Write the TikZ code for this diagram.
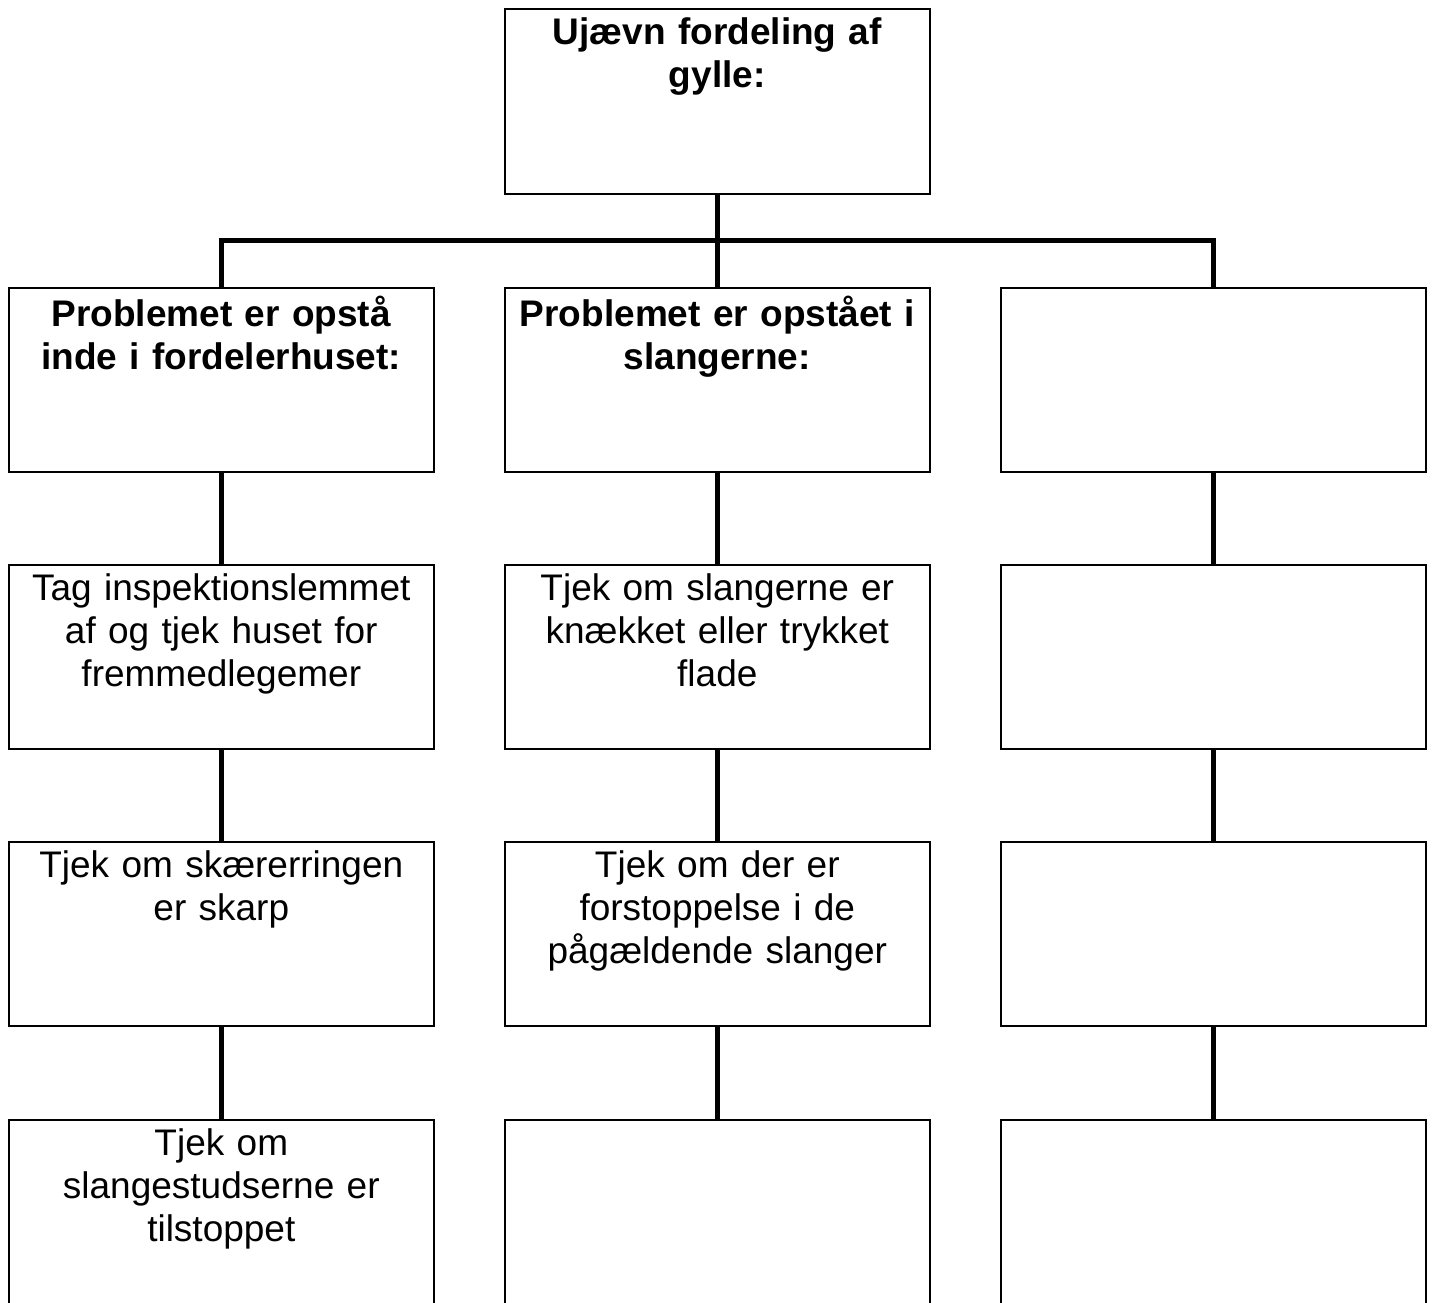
\documentclass[tikz,border=0pt]{standalone}
\usepackage{fontspec}
\setmainfont{Liberation Sans}
\begin{document}
\begin{tikzpicture}[x=1pt,y=-1pt,
  box/.style={draw, line width=1.6pt, minimum width=425pt, minimum height=184pt, inner sep=0pt, anchor=north west},
  lastbox/.style={box, minimum height=230pt},
  txt/.style={inner sep=0pt, text width=420pt, align=center, font=\fontsize{37}{43}\selectfont},
  btxt/.style={txt, font=\fontsize{37}{43}\selectfont\bfseries},
  conn/.style={line width=5pt, line join=miter}]
\clip (0,0) rectangle (1433,1302);
\fill[white] (0,0) rectangle (1433,1302);
% boxes
\node[box, minimum height=185pt] (top) at (504,8) {};
\foreach \r/\y in {1/287,2/564,3/841}{
  \node[box] (b\r1) at (8,\y) {};
  \node[box] (b\r2) at (504,\y) {};
  \node[box] (b\r3) at (1000,\y) {};
}
\node[lastbox] (b41) at (8,1119) {};
\node[lastbox] (b42) at (504,1119) {};
\node[lastbox] (b43) at (1000,1119) {};
% texts
\node[btxt, below=9pt] (t0) at (top.north) {Ujævn fordeling af\\gylle:};
\node[btxt, below=9pt] (t11) at (b11.north) {Problemet er opstå\\inde i fordelerhuset:};
\node[btxt, below=9pt] (t12) at (b12.north) {Problemet er opstået i\\slangerne:};
\node[txt, below=9pt] (t21) at (b21.north) {Tag inspektionslemmet\\af og tjek huset for\\fremmedlegemer};
\node[txt, below=9pt] (t22) at (b22.north) {Tjek om slangerne er\\knækket eller trykket\\flade};
\node[txt, below=9pt] (t31) at (b31.north) {Tjek om skærerringen\\er skarp};
\node[txt, below=9pt] (t32) at (b32.north) {Tjek om der er\\forstoppelse i de\\pågældende slanger};
\node[txt, below=9pt] (t41) at (b41.north) {Tjek om\\slangestudserne er\\tilstoppet};
% connectors
\coordinate (jl) at (b11.north |- 0,240);
\coordinate (jc) at (b12.north |- 0,240);
\coordinate (jr) at (b13.north |- 0,240);
\draw[conn] (b11.north) -- (jl) -- (jr) -- (b13.north);
\draw[conn] (top.south) -- (b12.north);
\foreach \c in {1,2,3}{
  \draw[conn] (b1\c.south) -- (b2\c.north);
  \draw[conn] (b2\c.south) -- (b3\c.north);
  \draw[conn] (b3\c.south) -- (b4\c.north);
}
\end{tikzpicture}
\end{document}
